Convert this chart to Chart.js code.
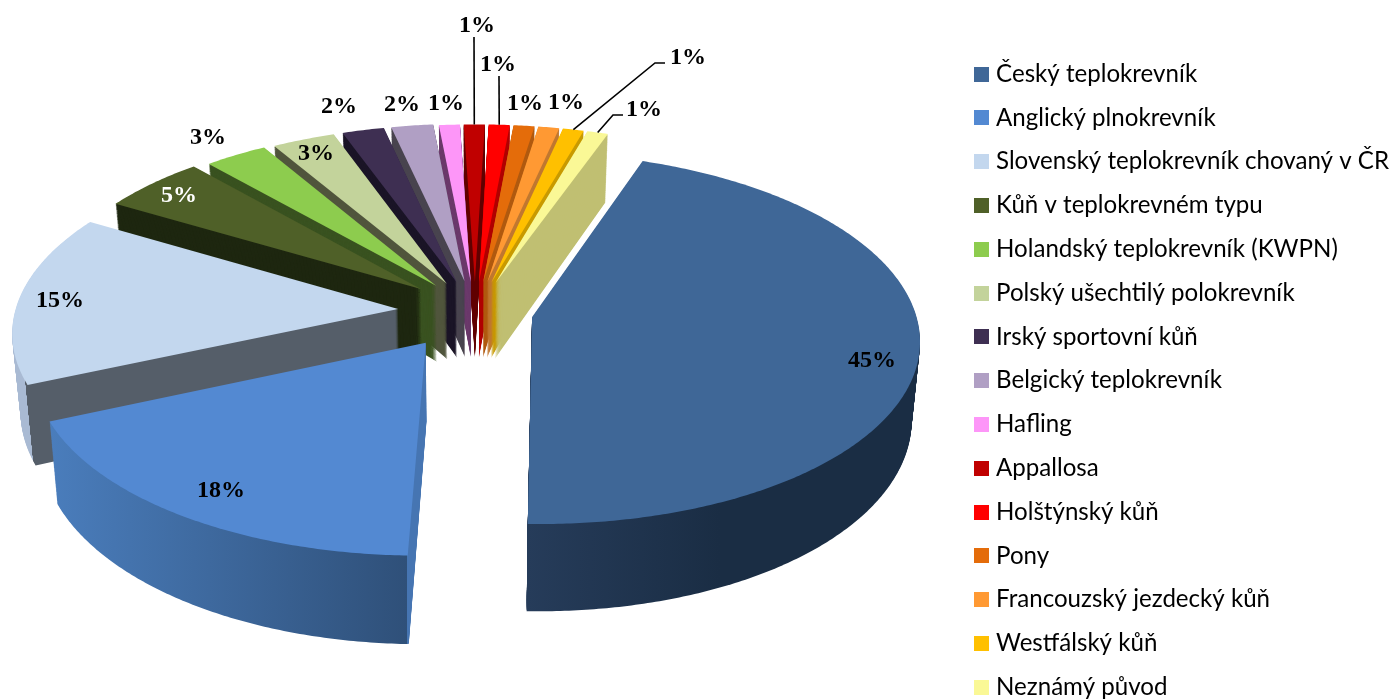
<!DOCTYPE html>
<html>
<head>
<meta charset="utf-8">
<title>Plemena</title>
<script src="https://cdn.jsdelivr.net/npm/chart.js@4"></script>
<style>
  html, body { margin: 0; padding: 0; background: #fff; overflow: hidden; }
  #wrap { position: absolute; left: 0; top: 0; width: 1396px; height: 700px; }
</style>
</head>
<body>
<div id="wrap"><canvas id="pie" width="1396" height="700"></canvas></div>
<script>
const breeds = ['Český teplokrevník', 'Anglický plnokrevník', 'Slovenský teplokrevník chovaný v ČR',
  'Kůň v teplokrevném typu', 'Holandský teplokrevník (KWPN)', 'Polský ušechtilý polokrevník',
  'Irský sportovní kůň', 'Belgický teplokrevník', 'Hafling', 'Appallosa', 'Holštýnský kůň', 'Pony',
  'Francouzský jezdecký kůň', 'Westfálský kůň', 'Neznámý původ'];
const shares = [45, 18, 15, 5, 3, 3, 2, 2, 1, 1, 1, 1, 1, 1, 1];

const topColors = ['#3f6797', '#5389d2', '#c3d7ee', '#4f6028', '#8dcc4e', '#c3d39b', '#3e2f52', '#b09fc4',
  '#fd96f8', '#c00000', '#ff0000', '#e46c0a', '#ff9933', '#ffc000', '#faf896'];
const wallColors = ['#1a2d44', '#2f5079', '#555e69', '#1e2710', '#395220', '#50553c', '#1a1426', '#49444f',
  '#6b3a6b', '#600000', '#b00000', '#b05a10', '#c07830', '#c89a00', '#c0bf72'];

// pixel positions of the percent labels, and the elbows of the leader lines
const labelX = [872, 221, 60, 179, 208, 316, 339, 402, 446, 477, 498, 525, 566, 688, 644];
const labelY = [361, 491, 301, 196, 138, 154, 107, 105, 104, 26, 65, 104, 103, 58, 110];
const leaders = { 9: [[474, 37]], 10: [[499, 76]], 13: [[655, 63], [665, 63]], 14: [[613, 115], [623, 115]] };

// the tilted disc: centre, radii, perspective, thickness, taper of the walls, explosion
const CX = 466, CY = 311, RX = 383, RY = 182, PERSP = 0.114, DEPTH = 77, TAPER = 0.00024, EXPLODE = 0.175;
// the source picture does not explode its slices quite evenly
const nudgeX = [0, -2, -1, 6, 9, 9, 9, 9, 9, 9, 9, 9, 9, 9, 9];
const nudgeY = [0, 5, 0, -2, 0, 1, 1, 1, 2, 2, 2, 2, 2, 2, 2];

function project(X, Y, d) {
  const p = 1 / (1 - PERSP * Y);
  return { x: CX + RX * X * p * (1 - TAPER * d), y: CY + RY * Y * p + d * p };
}

// stands in for the canvas context while an arc draws itself, and bends its path through project()
function tiltedContext(ctx, el, i, d, style) {
  const mid = (el.startAngle + el.endAngle) / 2;
  const ox = EXPLODE * Math.cos(mid), oy = EXPLODE * Math.sin(mid);
  const line = function (x, y) {
    const p = project((x - el.x) / el.outerRadius + ox, (y - el.y) / el.outerRadius + oy, d);
    ctx.lineTo(p.x + nudgeX[i], p.y + nudgeY[i]);
  };
  return {
    save() {}, restore() {}, translate() {}, setLineDash() {}, stroke() {}, clip() {},
    beginPath() { ctx.beginPath(); },
    closePath() { ctx.closePath(); },
    moveTo: line,
    lineTo: line,
    arc(x, y, r, a0, a1) {
      const steps = Math.max(2, Math.ceil(Math.abs(a1 - a0) / 0.01));
      for (let s = 0; s <= steps; s++) {
        const a = a0 + (a1 - a0) * s / steps;
        line(x + r * Math.cos(a), y + r * Math.sin(a));
      }
    },
    fill() { ctx.fillStyle = style; ctx.fill(); }
  };
}

function wallFill(ctx, i, d) {
  if (i > 2) return wallColors[i];
  let g;
  if (i === 0) {
    g = ctx.createLinearGradient(527, 0, 720, 0);
    g.addColorStop(0, '#263c5a');
    g.addColorStop(1, wallColors[0]);
  } else if (i === 1) {
    g = ctx.createLinearGradient(50, 0, 430, 0);
    g.addColorStop(0, '#4a7dbc');
    g.addColorStop(0.94, wallColors[1]);
    g.addColorStop(0.94, '#4675b2');
    g.addColorStop(1, '#4675b2');
  } else {
    // seam between the round wall and the cut face, it leans with the taper
    const seam = (25 + 8 * d / DEPTH) / 100;
    g = ctx.createLinearGradient(0, 0, 100, 0);
    g.addColorStop(0, '#a9bad3');
    g.addColorStop(seam, '#a9bad3');
    g.addColorStop(seam, wallColors[2]);
    g.addColorStop(1, wallColors[2]);
  }
  return g;
}

const tiltedPie = {
  id: 'tiltedPie',
  beforeDatasetDraw(chart) {
    const ctx = chart.ctx;
    const arcs = chart.getDatasetMeta(0).data;
    // far slices first, near slices over them
    const order = arcs.map((el, i) => i).sort(function (a, b) {
      return Math.sin((arcs[a].startAngle + arcs[a].endAngle) / 2) - Math.sin((arcs[b].startAngle + arcs[b].endAngle) / 2);
    });
    ctx.save();
    order.forEach(function (i) {
      const el = arcs[i];
      for (let d = DEPTH; d > 0; d--) el.draw(tiltedContext(ctx, el, i, d, wallFill(ctx, i, d)));
      el.draw(tiltedContext(ctx, el, i, 0, topColors[i]));
    });
    ctx.restore();
    return false;
  },
  afterDraw(chart) {
    const ctx = chart.ctx;
    const arcs = chart.getDatasetMeta(0).data;
    ctx.save();
    ctx.strokeStyle = '#000';
    ctx.lineWidth = 1.6;
    Object.keys(leaders).forEach(function (i) {
      const el = arcs[i];
      const mid = (el.startAngle + el.endAngle) / 2;
      const start = project((1 + EXPLODE) * Math.cos(mid), (1 + EXPLODE) * Math.sin(mid), 0);
      ctx.beginPath();
      ctx.moveTo(start.x + nudgeX[i], start.y + nudgeY[i]);
      leaders[i].forEach(function (p) { ctx.lineTo(p[0], p[1]); });
      ctx.stroke();
    });
    ctx.font = 'bold 24px "Liberation Serif"';
    ctx.textAlign = 'center';
    ctx.textBaseline = 'middle';
    shares.forEach(function (v, i) {
      ctx.fillStyle = i === 3 ? '#fff' : '#000';
      ctx.fillText(v + '%', labelX[i], labelY[i]);
    });
    ctx.restore();
  }
};

// legend squares as small canvases, so the text can sit closer to them than boxWidth allows
function legendSquare(color) {
  const c = document.createElement('canvas');
  c.width = 15;
  c.height = 15;
  const g = c.getContext('2d');
  g.fillStyle = color;
  g.fillRect(0, 0, 15, 15);
  return c;
}

new Chart(document.getElementById('pie'), {
  type: 'pie',
  data: {
    labels: breeds,
    datasets: [{ data: shares, backgroundColor: topColors, borderWidth: 0 }]
  },
  options: {
    responsive: false,
    animation: false,
    rotation: 19.7,
    layout: { padding: { right: -3, bottom: -19 } },
    plugins: {
      tooltip: { enabled: false },
      legend: {
        position: 'right',
        align: 'end',
        labels: {
          usePointStyle: true,
          pointStyleWidth: 6,
          padding: 19.7,
          color: '#000',
          font: { family: 'Lato', size: 24.1 },
          generateLabels(chart) {
            return Chart.overrides.pie.plugins.legend.labels.generateLabels(chart).map(function (item) {
              item.pointStyle = legendSquare(item.fillStyle);
              return item;
            });
          }
        }
      }
    }
  },
  plugins: [tiltedPie]
});
</script>
</body>
</html>
